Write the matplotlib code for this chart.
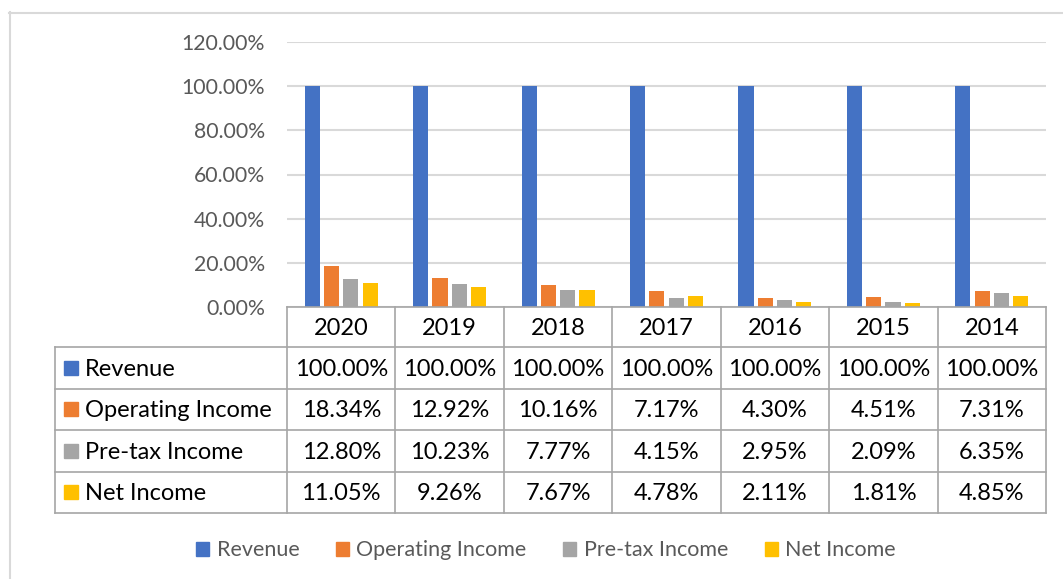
import numpy as np
import matplotlib
matplotlib.use("Agg")
import matplotlib.pyplot as plt
from matplotlib.lines import Line2D
from matplotlib.patches import Rectangle
from matplotlib.ticker import FuncFormatter

years = ["2020", "2019", "2018", "2017", "2016", "2015", "2014"]
series = ["Revenue", "Operating Income", "Pre-tax Income", "Net Income"]
revenue = [100.00, 100.00, 100.00, 100.00, 100.00, 100.00, 100.00]
operating = [18.34, 12.92, 10.16, 7.17, 4.30, 4.51, 7.31]
pretax = [12.80, 10.23, 7.77, 4.15, 2.95, 2.09, 6.35]
net = [11.05, 9.26, 7.67, 4.78, 2.11, 1.81, 4.85]
colors = ["#4472C4", "#ED7D31", "#A5A5A5", "#FFC000"]

W, H = 1063, 579
FONT = "Lato"
plt.rcParams["font.family"] = [FONT, "DejaVu Sans"]

fig = plt.figure(figsize=(W / 100, H / 100), dpi=100)


def fx(px):
    return px / W


def fy(py):
    return 1 - py / H


def hline(x0, x1, y, c="#A6A6A6", lw=1.2):
    fig.add_artist(Line2D([fx(x0), fx(x1)], [fy(y), fy(y)], color=c, lw=lw))


def vline(x, y0, y1, c="#A6A6A6", lw=1.2):
    fig.add_artist(Line2D([fx(x), fx(x)], [fy(y0), fy(y1)], color=c, lw=lw))


# outer chart frame
hline(9, 1070, 12.5, c="#D9D9D9", lw=1.5)
vline(9.5, 12, 590, c="#D9D9D9", lw=1.5)

# plot area
left, right, top, bottom = 287, 1046, 42, 307
ax = fig.add_axes([fx(left), fy(bottom), fx(right) - fx(left), fy(top) - fy(bottom)])
data = [revenue, operating, pretax, net]
x = np.arange(len(years))
bw = 0.14
gap = 0.038
offsets = (np.arange(4) - 1.5) * (bw + gap)
for vals, off, c in zip(data, offsets, colors):
    ax.bar(x + off, np.array(vals) / 100, bw, color=c, zorder=3)
ax.set_xlim(-0.5, len(years) - 0.5)
ax.set_ylim(0, 1.2)
ax.set_yticks(np.arange(0, 1.21, 0.2))
ax.yaxis.set_major_formatter(FuncFormatter(lambda v, p: f"{v * 100:.2f}%"))
ax.grid(axis="y", color="#D9D9D9", lw=1.5, zorder=0)
ax.set_xticks([])
for s in ax.spines.values():
    s.set_visible(False)
ax.tick_params(axis="y", length=0, pad=16, labelsize=15.3, labelcolor="#595959")

# data table
col_w = (right - left) / len(years)
row_edges = [307, 347, 388.5, 430, 471.5, 513]
tleft = 55
hline(left, right, row_edges[0])
for ye in row_edges[1:]:
    hline(tleft, right, ye)
vline(tleft, row_edges[1], row_edges[-1])
for k in range(len(years) + 1):
    vline(left + k * col_w, row_edges[0], row_edges[-1])

fs = 17
dy = 1.5  # nudge text down a little
for k, yr in enumerate(years):
    fig.text(fx(left + (k + 0.5) * col_w), fy((row_edges[0] + row_edges[1]) / 2 + dy), yr,
             ha="center", va="center", fontsize=fs, color="black")
for r, (name, vals, c) in enumerate(zip(series, data, colors)):
    yc = (row_edges[r + 1] + row_edges[r + 2]) / 2
    fig.add_artist(Rectangle((fx(64), fy(yc + 7)), fx(14), fy(0) - fy(14), color=c))
    fig.text(fx(85), fy(yc + dy), name, ha="left", va="center", fontsize=fs, color="black")
    for k, v in enumerate(vals):
        fig.text(fx(left + (k + 0.5) * col_w), fy(yc + dy), f"{v:.2f}%",
                 ha="center", va="center", fontsize=fs, color="black")

# legend
handles = [Rectangle((0, 0), 1, 1, color=c) for c in colors]
fig.legend(handles, series, loc="center", bbox_to_anchor=(fx(546), fy(550.5)), ncol=4,
           frameon=False, fontsize=15.5, labelcolor="#595959", handlelength=0.6,
           handleheight=0.6, handletextpad=0.35, columnspacing=1.7)

fig.savefig("out.png", dpi=100)
